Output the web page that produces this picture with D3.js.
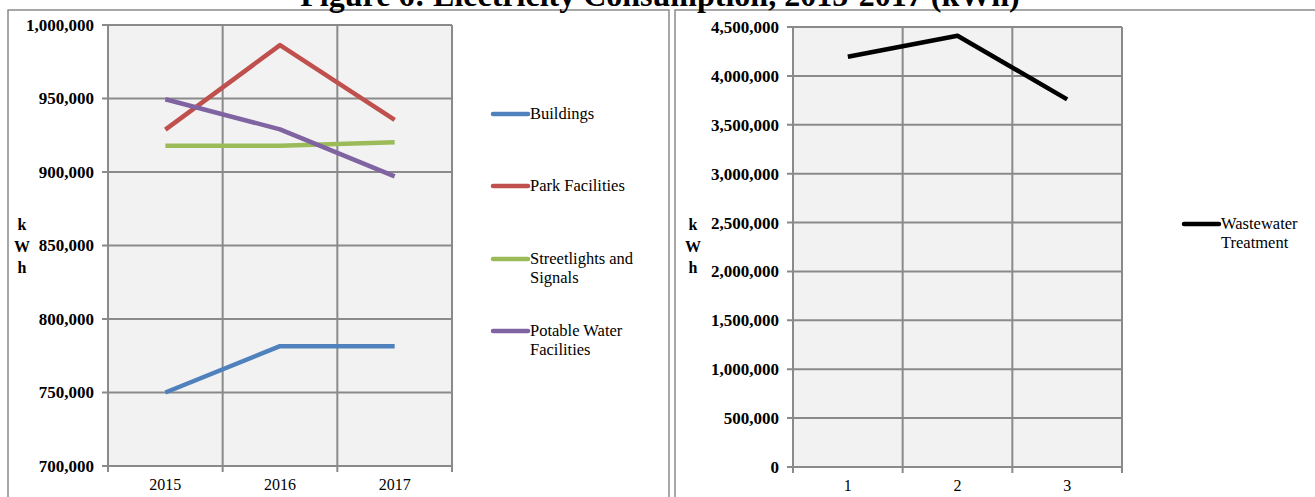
<!DOCTYPE html>
<html><head><meta charset="utf-8">
<script src="https://cdn.jsdelivr.net/npm/d3@7"></script>
<style>body{margin:0;background:#fff;}svg{display:block;}</style>
</head><body>
<svg id="c" width="1315" height="497"></svg>
<script>
const title = "Figure 6: Electricity Consumption, 2015-2017 (kWh)";
const years = ["2015", "2016", "2017"];
const buildings = [750000, 781500, 781500];
const parkFacilities = [928800, 986300, 935500];
const streetlights = [917800, 917800, 920300];
const potableWater = [949500, 929000, 897000];
const leftTicks = [700000, 750000, 800000, 850000, 900000, 950000, 1000000];
const seriesNames = ["Buildings", "Park Facilities", "Streetlights and|Signals", "Potable Water|Facilities"];
const seriesColors = ["#4f81bd", "#c0504d", "#9bbb59", "#8064a2"];

const wwCats = ["1", "2", "3"];
const wastewater = [4195000, 4410000, 3760000];
const rightTicks = [0, 500000, 1000000, 1500000, 2000000, 2500000, 3000000, 3500000, 4000000, 4500000];
const wwName = "Wastewater|Treatment";
const wwColor = "#000000";
const yTitle = ["k", "W", "h"];

const svg = d3.select("#c");
const serif = "'Liberation Serif','Times New Roman',serif";
const grid = "#8a8a8a";

// panel borders
svg.append("rect").attr("x", 8).attr("y", 10).attr("width", 661).attr("height", 520)
  .attr("fill", "none").attr("stroke", "#8a8a8a").attr("stroke-width", 1.5);
svg.append("rect").attr("x", 675).attr("y", 10).attr("width", 700).attr("height", 520)
  .attr("fill", "none").attr("stroke", "#8a8a8a").attr("stroke-width", 1.5);

// title
svg.append("text").attr("x", 660).attr("y", 6).attr("text-anchor", "middle")
  .attr("font-family", serif).attr("font-weight", "bold").attr("font-size", 32)
  .text(title);

function drawChart(cfg) {
  const x = d3.scaleBand().domain(cfg.cats).range([cfg.x0, cfg.x1]);
  const y = d3.scaleLinear().domain([cfg.ticks[0], cfg.ticks[cfg.ticks.length - 1]]).range([cfg.y1, cfg.y0]);
  const g = svg.append("g");
  g.append("rect").attr("x", cfg.x0).attr("y", cfg.y0).attr("width", cfg.x1 - cfg.x0).attr("height", cfg.y1 - cfg.y0)
    .attr("fill", "#f2f2f2");
  // horizontal grid
  g.selectAll(".hg").data(cfg.ticks).join("line")
    .attr("x1", cfg.x0 - 6).attr("x2", cfg.x1).attr("y1", d => y(d)).attr("y2", d => y(d))
    .attr("stroke", grid).attr("stroke-width", 2);
  // vertical grid
  const vx = cfg.cats.map(c => x(c)).concat([cfg.x1]);
  g.selectAll(".vg").data(vx).join("line")
    .attr("x1", d => d).attr("x2", d => d).attr("y1", cfg.y0).attr("y2", cfg.y1 + 6)
    .attr("stroke", grid).attr("stroke-width", 2);
  // y labels
  const ya = d3.axisLeft(y).tickValues(cfg.ticks).tickFormat(d3.format(",")).tickSize(0).tickPadding(cfg.x0 - cfg.labelRight);
  const yg = g.append("g").attr("transform", `translate(${cfg.x0},0)`).call(ya);
  yg.select(".domain").remove();
  yg.selectAll("text").attr("font-family", serif).attr("font-weight", "bold").attr("font-size", 17).attr("fill", "#000");
  // x labels
  const xa = d3.axisBottom(x).tickSize(0).tickPadding(13);
  const xg = g.append("g").attr("transform", `translate(0,${cfg.y1})`).call(xa);
  xg.select(".domain").remove();
  xg.selectAll("text").attr("font-family", serif).attr("font-size", 16).attr("fill", "#000");
  // lines
  const line = d3.line().x((d, i) => x(cfg.cats[i]) + x.bandwidth() / 2).y(d => y(d));
  cfg.series.forEach((s, i) => {
    g.append("path").datum(s).attr("d", line).attr("fill", "none")
      .attr("stroke", cfg.colors[i]).attr("stroke-width", 4.5).attr("stroke-linejoin", "round");
  });
  // legend
  cfg.names.forEach((n, i) => {
    const ly = cfg.legY[i];
    g.append("line").attr("x1", cfg.legX).attr("x2", cfg.legX + 35).attr("y1", ly).attr("y2", ly)
      .attr("stroke", cfg.colors[i]).attr("stroke-width", 4.5).attr("stroke-linecap", "round");
    const t = g.append("text").attr("x", cfg.legX + 37).attr("y", ly + 5)
      .attr("font-family", serif).attr("font-size", 16.5);
    n.split("|").forEach((p, j) => {
      t.append("tspan").attr("x", cfg.legX + 37).attr("dy", j ? 18.5 : 0).text(p);
    });
  });
  // y title
  yTitle.forEach((ch, j) => {
    g.append("text").attr("x", cfg.titleX).attr("y", cfg.titleY + j * 21.5).attr("text-anchor", "middle")
      .attr("font-family", serif).attr("font-weight", "bold").attr("font-size", 16).text(ch);
  });
}

drawChart({
  cats: years, x0: 108, x1: 452, y0: 25, y1: 466, ticks: leftTicks, labelRight: 94,
  series: [buildings, parkFacilities, streetlights, potableWater], colors: seriesColors, names: seriesNames,
  legX: 493, legY: [114, 186, 259, 331], titleX: 22, titleY: 230
});
drawChart({
  cats: wwCats, x0: 793, x1: 1122, y0: 27, y1: 467, ticks: rightTicks, labelRight: 779,
  series: [wastewater], colors: [wwColor], names: [wwName],
  legX: 1184, legY: [224], titleX: 693, titleY: 230
});
</script>
</body></html>
